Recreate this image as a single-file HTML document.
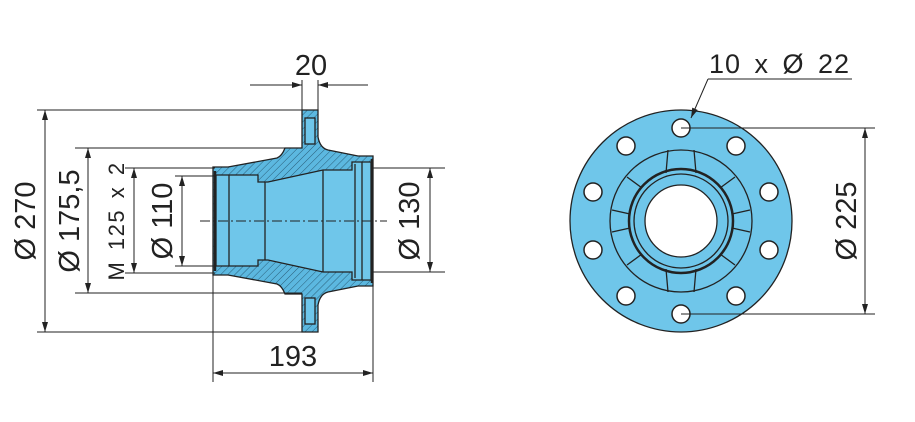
<!DOCTYPE html>
<html><head><meta charset="utf-8"><style>
html,body{margin:0;padding:0;background:#fff}
svg{display:block}
text{font-family:"Liberation Sans",sans-serif;fill:#222}
</style></head><body>
<svg width="915" height="422" viewBox="0 0 915 422" xmlns="http://www.w3.org/2000/svg">
<defs>
<pattern id="h" width="5" height="5" patternUnits="userSpaceOnUse" patternTransform="rotate(45)">
<rect width="5" height="5" fill="#5cb8e0"/><line x1="0" y1="0" x2="0" y2="5" stroke="#2a5f7a" stroke-width="1"/>
</pattern>
<marker id="a" viewBox="0 0 10 6" refX="10" refY="3" markerWidth="11" markerHeight="6" orient="auto-start-reverse" markerUnits="userSpaceOnUse"><path d="M0,0L10,3L0,6z" fill="#222"/></marker>
</defs>
<g stroke="#222" stroke-width="1.3" fill="none">
<path fill="url(#h)" d="M302,110 H318 V137 Q320,148 328,150 L358,156 H373 V286 H358 L328,292 Q320,294 318,305 V332 H302 V294 H285 Q282,286 277,284 L228,275 H213 V167 H228 L277,158 Q282,156 285,148 H302 Z"/>
<path fill="#6fc6ea" d="M216,175 H258 V182 H268 L323,170 H352 V162 H371 V280 H352 V272 H323 L268,260 H258 V266 H216 Z"/>
<rect x="305" y="118" width="10" height="26" fill="#6fc6ea"/>
<rect x="305" y="298" width="10" height="26" fill="#6fc6ea"/>
<line x1="229" y1="175" x2="229" y2="266"/>
<line x1="265" y1="182" x2="265" y2="260"/>
<line x1="323" y1="170" x2="323" y2="272"/>
<line x1="355" y1="164" x2="355" y2="278"/>
<line x1="362" y1="162" x2="362" y2="280"/>
<line x1="215" y1="171" x2="215" y2="271" stroke-width="2.5"/>
<line x1="372" y1="159" x2="372" y2="283" stroke-width="2.5"/>
<line x1="200" y1="221" x2="387" y2="221" stroke-dasharray="10,3,2,3" stroke-width="1"/>
<g stroke-width="1">
<line x1="37" y1="110" x2="302" y2="110"/><line x1="37" y1="332" x2="302" y2="332"/>
<line x1="45" y1="110" x2="45" y2="332" marker-start="url(#a)" marker-end="url(#a)"/>
<line x1="75" y1="148" x2="302" y2="148"/><line x1="75" y1="293" x2="302" y2="293"/>
<line x1="88" y1="148" x2="88" y2="293" marker-start="url(#a)" marker-end="url(#a)"/>
<line x1="125" y1="168" x2="215" y2="168"/><line x1="125" y1="273" x2="215" y2="273"/>
<line x1="134" y1="168" x2="134" y2="273" marker-start="url(#a)" marker-end="url(#a)"/>
<line x1="175" y1="176" x2="215" y2="176"/><line x1="175" y1="266" x2="215" y2="266"/>
<line x1="182" y1="176" x2="182" y2="266" marker-start="url(#a)" marker-end="url(#a)"/>
<line x1="373" y1="168" x2="445" y2="168"/><line x1="373" y1="272" x2="445" y2="272"/>
<line x1="430" y1="168" x2="430" y2="272" marker-start="url(#a)" marker-end="url(#a)"/>
<line x1="213" y1="271" x2="213" y2="382"/><line x1="373" y1="283" x2="373" y2="382"/>
<line x1="213" y1="373" x2="373" y2="373" marker-start="url(#a)" marker-end="url(#a)"/>
<line x1="302" y1="80" x2="302" y2="110"/><line x1="318" y1="80" x2="318" y2="110"/>
<line x1="250" y1="85" x2="302" y2="85" marker-end="url(#a)"/>
<line x1="368" y1="85" x2="318" y2="85" marker-end="url(#a)"/>
</g>
<circle cx="681" cy="221" r="111" fill="#6fc6ea"/>
<circle cx="681" cy="221" r="71"/>
<g stroke-width="1.3">
<line x1="668" y1="150" x2="666" y2="173"/><line x1="694" y1="150" x2="696" y2="173"/>
<line x1="668" y1="292" x2="666" y2="269"/><line x1="694" y1="292" x2="696" y2="269"/>
<line x1="627" y1="177" x2="642" y2="188"/><line x1="735" y1="177" x2="720" y2="188"/>
<line x1="627" y1="265" x2="642" y2="254"/><line x1="735" y1="265" x2="720" y2="254"/>
<line x1="612" y1="210" x2="630" y2="214"/><line x1="750" y1="210" x2="732" y2="214"/>
<line x1="612" y1="232" x2="630" y2="228"/><line x1="750" y1="232" x2="732" y2="228"/>
</g>
<circle cx="681" cy="221" r="52" stroke-width="2.5"/>
<circle cx="681" cy="221" r="47"/>
<circle cx="681" cy="221" r="36" fill="#fff"/>
<g fill="#fff" stroke-width="1.5">
<circle cx="681" cy="128" r="9"/><circle cx="736" cy="146" r="9"/><circle cx="769" cy="192" r="9"/><circle cx="769" cy="250" r="9"/><circle cx="736" cy="296" r="9"/>
<circle cx="681" cy="314" r="9"/><circle cx="626" cy="296" r="9"/><circle cx="593" cy="250" r="9"/><circle cx="593" cy="192" r="9"/><circle cx="626" cy="146" r="9"/>
</g>
<g stroke-width="1">
<line x1="681" y1="128" x2="875" y2="128"/><line x1="681" y1="314" x2="875" y2="314"/>
<line x1="865" y1="128" x2="865" y2="314" marker-start="url(#a)" marker-end="url(#a)"/>
<line x1="708" y1="79" x2="852" y2="79"/>
<line x1="708" y1="79" x2="691" y2="118" marker-end="url(#a)"/>
</g>
</g>
<g font-size="29">
<text x="311" y="75" text-anchor="middle">20</text>
<text x="293" y="366" text-anchor="middle">193</text>
<text x="709" y="73" font-size="27" letter-spacing="1" word-spacing="5">10 x Ø 22</text>
<text transform="translate(35,221) rotate(-90)" text-anchor="middle">Ø 270</text>
<text transform="translate(79,221) rotate(-90)" text-anchor="middle">Ø 175,5</text>
<text transform="translate(124,221) rotate(-90)" text-anchor="middle" font-size="22" letter-spacing="1.5" word-spacing="3">M 125 x 2</text>
<text transform="translate(172,221) rotate(-90)" text-anchor="middle">Ø 110</text>
<text transform="translate(419,221) rotate(-90)" text-anchor="middle">Ø 130</text>
<text transform="translate(856,221) rotate(-90)" text-anchor="middle">Ø 225</text>
</g>
</svg>
</body></html>
